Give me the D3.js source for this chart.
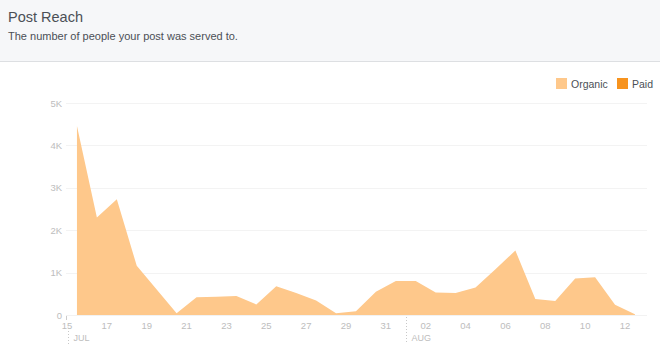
<!DOCTYPE html>
<html><head><meta charset="utf-8">
<script src="https://cdn.jsdelivr.net/npm/d3@7"></script>
<style>
html,body{margin:0;padding:0;background:#fff;}
svg{display:block;font-family:"Liberation Sans",Arial,Helvetica,sans-serif;}
</style></head>
<body>
<svg id="chart" width="660" height="354"></svg>
<script>
// Data: day offsets from 15 Jul (points sit at mid-day), values in people reached
const dayOffsets = [0.5,1.5,2.5,3.5,4.5,5.5,6.5,7.5,8.5,9.5,10.5,11.5,12.5,13.5,14.5,15.5,16.5,17.5,18.5,19.5,20.5,21.5,22.5,23.5,24.5,25.5,26.5,27.5,28.5];
const organic = [4460,2300,2730,1160,600,40,420,430,450,250,680,520,340,40,90,550,800,800,530,520,650,1080,1520,380,330,860,890,240,20];
const paid = dayOffsets.map(() => 0);
const yTicks = [0,1000,2000,3000,4000,5000];
const yTickLabels = ["0","1K","2K","3K","4K","5K"];
const xTickDays = [0,2,4,6,8,10,12,14,16,18,20,22,24,26,28];
const xTickLabels = ["15","17","19","21","23","25","27","29","31","02","04","06","08","10","12"];
const months = [{day:0,label:"JUL"},{day:17,label:"AUG"}];
const legendItems = [{label:"Organic",color:"#fec88b"},{label:"Paid",color:"#f7931e"}];

const svg = d3.select("#chart");
const W = 660, H = 354;

// header
svg.append("rect").attr("x",0).attr("y",0).attr("width",W).attr("height",61).attr("fill","#f6f7f9");
svg.append("line").attr("x1",0).attr("x2",W).attr("y1",61.5).attr("y2",61.5).attr("stroke","#dddfe2");
svg.append("text").attr("x",8).attr("y",22).attr("font-size",14.5).attr("fill","#4b4f56").text("Post Reach");
svg.append("text").attr("x",8).attr("y",40).attr("font-size",11).attr("fill","#4b4f56").text("The number of people your post was served to.");

const x = d3.scaleLinear().domain([0,28]).range([67,625]);
const y = d3.scaleLinear().domain([0,5000]).range([315,103]);

// grid
svg.append("g").selectAll("line").data(yTicks).join("line")
  .attr("x1",66).attr("x2",647)
  .attr("y1",d=>Math.round(y(d))+0.5).attr("y2",d=>Math.round(y(d))+0.5)
  .attr("stroke",(d)=> d===0 ? "#f2f2f2" : "#f3f3f3");

// y labels
svg.append("g").selectAll("text").data(yTicks).join("text")
  .attr("x",62).attr("y",d=>y(d)+3.5).attr("text-anchor","end")
  .attr("font-size",9.5).attr("fill","#bdbdbd")
  .text((d,i)=>yTickLabels[i]);

// area organic
const area = d3.area().x((d,i)=>x(dayOffsets[i])).y0(y(0)).y1(d=>y(d));
svg.append("path").datum(organic).attr("d",area).attr("fill",legendItems[0].color);
svg.append("path").datum(paid).attr("d",area).attr("fill",legendItems[1].color);

// x axis
const xg = svg.append("g");
xg.selectAll("text").data(xTickDays).join("text")
  .attr("x",d=>x(d)).attr("y",329).attr("text-anchor","middle")
  .attr("font-size",9.5).attr("fill","#bdbdbd")
  .text((d,i)=>xTickLabels[i]);
xg.append("line").attr("x1",x(0)-0.5).attr("x2",x(0)-0.5).attr("y1",316).attr("y2",320).attr("stroke","#ccc");

// months
months.forEach(m=>{
  const mx = Math.round(x(m.day))+0.5 + (m.day===0?1:0);
  svg.append("line").attr("x1",mx).attr("x2",mx).attr("y1",m.day===0?331:317).attr("y2",344)
    .attr("stroke","#c8c8c8").attr("stroke-dasharray","1,2");
  svg.append("text").attr("x",mx+5).attr("y",341).attr("font-size",9).attr("fill","#bdbdbd").text(m.label);
});

// legend
const lg = svg.append("g");
legendItems.forEach((it,i)=>{
  const gx = i===0 ? 556 : 617;
  lg.append("rect").attr("x",gx).attr("y",78).attr("width",11).attr("height",11).attr("fill",it.color);
  lg.append("text").attr("x",gx+15).attr("y",87.5).attr("font-size",10.5).attr("fill","#4b4f56").text(it.label);
});
</script>
</body></html>
